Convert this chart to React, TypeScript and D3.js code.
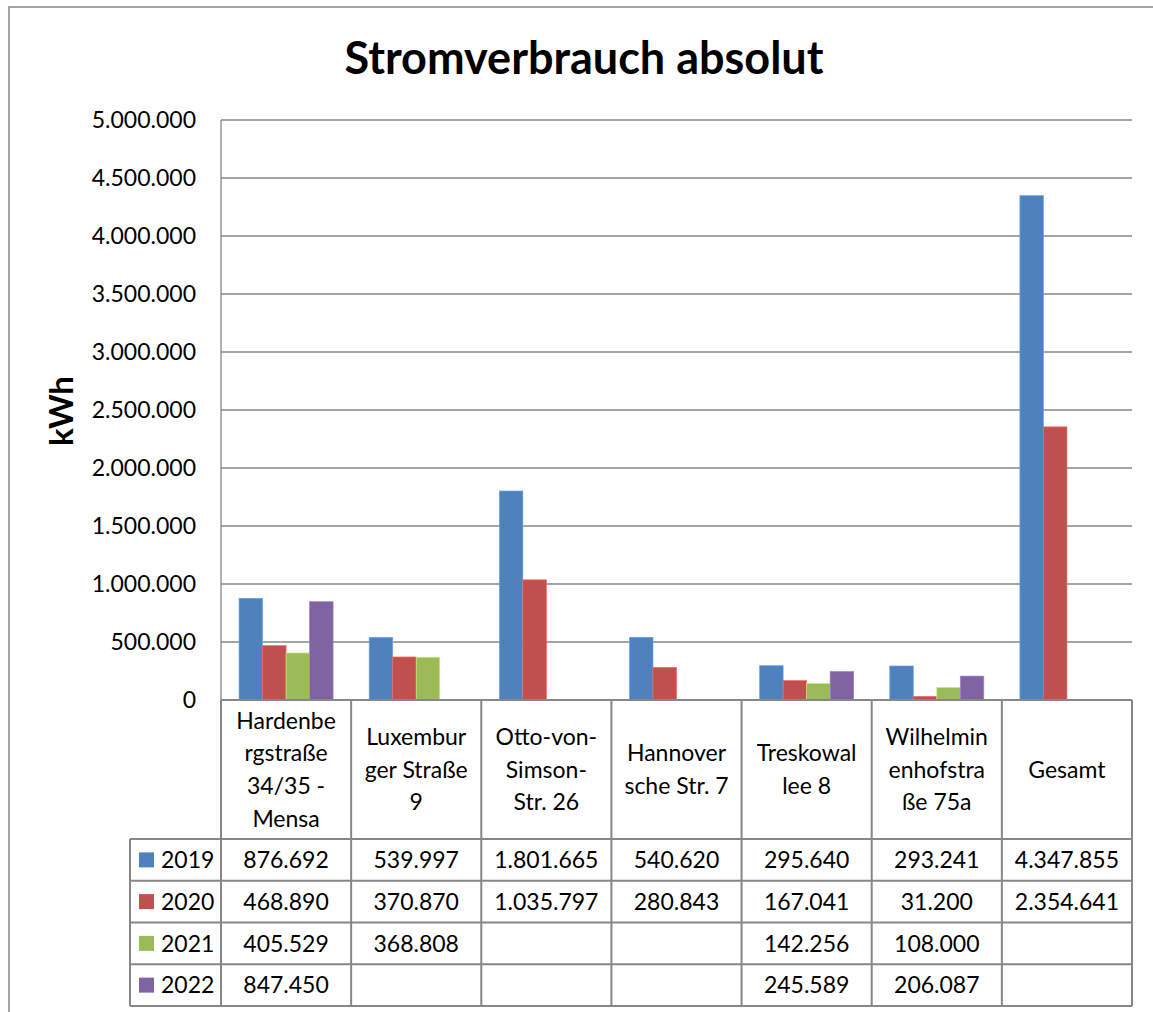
import React from "react";
import * as d3 from "d3";

const categories: string[][] = [
  ["Hardenbe", "rgstraße", "34/35 -", "Mensa"],
  ["Luxembur", "ger Straße", "9"],
  ["Otto-von-", "Simson-", "Str. 26"],
  ["Hannover", "sche Str. 7"],
  ["Treskowal", "lee 8"],
  ["Wilhelmin", "enhofstra", "ße 75a"],
  ["Gesamt"],
];
const years = ["2019", "2020", "2021", "2022"];
const v2019 = [876692, 539997, 1801665, 540620, 295640, 293241, 4347855];
const v2020 = [468890, 370870, 1035797, 280843, 167041, 31200, 2354641];
const v2021 = [405529, 368808, null, null, 142256, 108000, null];
const v2022 = [847450, null, null, null, 245589, 206087, null];
const seriesValues: (number | null)[][] = [v2019, v2020, v2021, v2022];
const colors = ["#4F81BD", "#C0504D", "#9BBB59", "#8064A2"];
const yTicks = [0, 500000, 1000000, 1500000, 2000000, 2500000, 3000000, 3500000, 4000000, 4500000, 5000000];
const title = "Stromverbrauch absolut";
const yTitle = "kWh";

const W = 1153;
const H = 1012;
const FONT = "Lato, 'Open Sans', sans-serif";
const FS = 23;
const plotLeft = 221;
const plotRight = 1132;
const plotTop = 120;
const plotBottom = 700;
const headerBottom = 839;
const rowH = 41.75;
const labelColLeft = 130;
const gridColor = "#878787";

const fmt = (v: number) => {
  const s = Math.round(v).toString();
  return s.replace(/\B(?=(\d{3})+(?!\d))/g, ".");
};

export default function App() {
  const catIdx = categories.map((_, i) => String(i));
  const x = d3.scaleBand<string>().domain(catIdx).range([plotLeft, plotRight]).paddingInner(0).paddingOuter(0);
  const xs = d3.scaleBand<string>().domain(years).range([0, x.bandwidth()]).paddingInner(0).paddingOuter(0.768);
  const y = d3.scaleLinear().domain([0, 5000000]).range([plotBottom, plotTop]);
  const capOff = FS * 0.36;
  const rowTops = years.map((_, i) => headerBottom + i * rowH);
  const tableBottom = headerBottom + years.length * rowH;

  return (
    <svg width={W} height={H} style={{ position: "absolute", left: 0, top: 0, display: "block" }} fontFamily={FONT}>
      <rect x={0} y={0} width={W} height={H} fill="#fff" />
      <rect x={9} y={7} width={W + 20} height={H + 20} fill="none" stroke={gridColor} strokeWidth={1.5} />
      <text x={584} y={74} textAnchor="middle" fontWeight="bold" fontSize={45} fill="#000">{title}</text>
      <text transform={`translate(72.5,411) rotate(-90)`} textAnchor="middle" fontWeight="bold" fontSize={33} fill="#000">{yTitle}</text>

      {yTicks.map((t) => (
        <g key={t}>
          {t > 0 && (
            <line x1={plotLeft} x2={plotRight} y1={y(t)} y2={y(t)} stroke={gridColor} strokeWidth={1.3} />
          )}
          <text x={196} y={y(t) + capOff} textAnchor="end" fontSize={FS} fill="#000">{fmt(t)}</text>
        </g>
      ))}
      <line x1={plotLeft} x2={plotLeft} y1={plotTop} y2={plotBottom} stroke={gridColor} strokeWidth={1.3} />

      {seriesValues.map((vals, si) =>
        vals.map((v, ci) =>
          v == null ? null : (
            <rect
              key={`${si}-${ci}`}
              x={(x(String(ci)) as number) + (xs(years[si]) as number)}
              y={y(v)}
              width={xs.bandwidth()}
              height={y(0) - y(v)}
              fill={colors[si]}
              stroke={d3.color(colors[si])!.brighter(0.7).formatHex()}
              strokeWidth={0.7}
            />
          )
        )
      )}

      {/* table */}
      <g stroke={gridColor} strokeWidth={2} fill="none">
        <line x1={plotLeft} x2={plotRight} y1={plotBottom} y2={plotBottom} />
        {catIdx.map((c) => (
          <line key={c} x1={x(c)} x2={x(c)} y1={plotBottom} y2={tableBottom} />
        ))}
        <line x1={plotRight} x2={plotRight} y1={plotBottom} y2={tableBottom} />
        <line x1={labelColLeft} x2={labelColLeft} y1={headerBottom} y2={tableBottom} />
        {[...rowTops, tableBottom].map((ry, i) => (
          <line key={i} x1={labelColLeft} x2={plotRight} y1={ry} y2={ry} />
        ))}
      </g>

      {categories.map((lines, ci) => {
        const cx = (x(String(ci)) as number) + x.bandwidth() / 2;
        const lh = 32.7;
        const mid = (plotBottom + headerBottom) / 2;
        const first = mid - ((lines.length - 1) * lh) / 2;
        return (
          <g key={ci}>
            {lines.map((ln, li) => (
              <text key={li} x={cx} y={first + li * lh + capOff} textAnchor="middle" fontSize={FS} fill="#000">{ln}</text>
            ))}
          </g>
        );
      })}

      {years.map((yr, si) => {
        const cy = rowTops[si] + rowH / 2;
        return (
          <g key={yr}>
            <rect x={139} y={cy - 7.5} width={15} height={15} fill={colors[si]} />
            <text x={161} y={cy + capOff} fontSize={FS} fill="#000">{yr}</text>
            {seriesValues[si].map((v, ci) =>
              v == null ? null : (
                <text key={ci} x={(x(String(ci)) as number) + x.bandwidth() / 2} y={cy + capOff} textAnchor="middle" fontSize={FS} fill="#000">{fmt(v)}</text>
              )
            )}
          </g>
        );
      })}
    </svg>
  );
}
